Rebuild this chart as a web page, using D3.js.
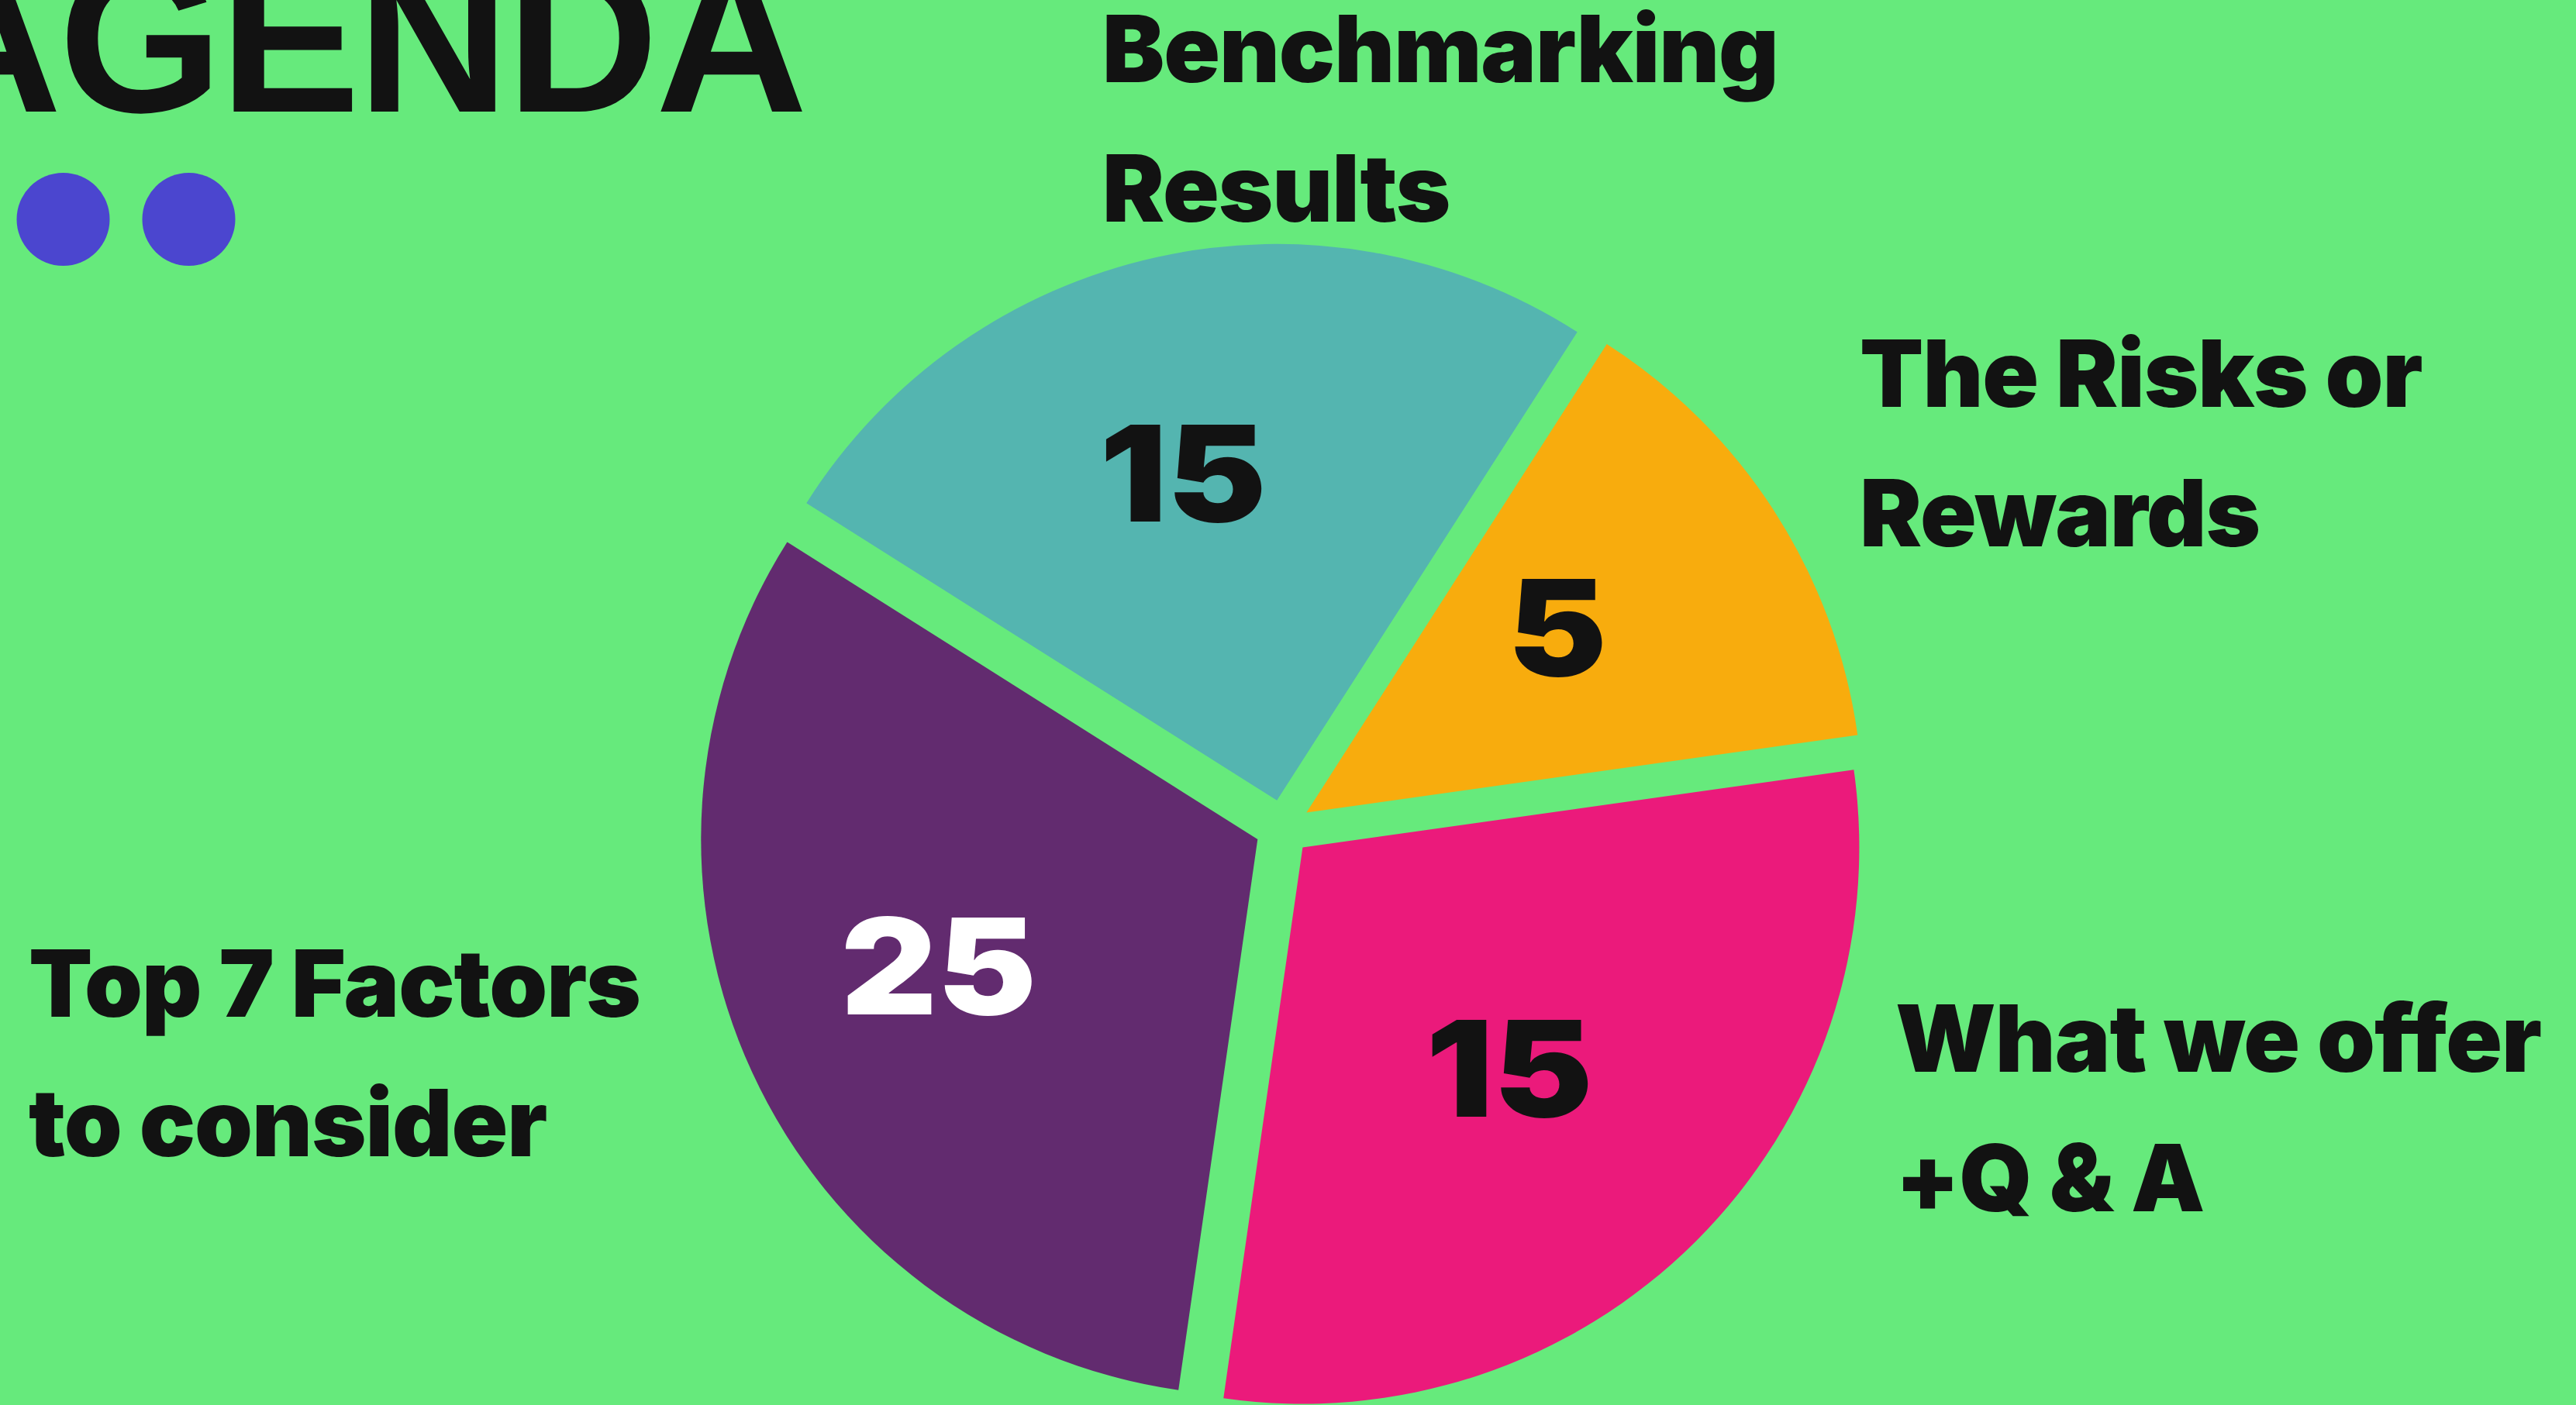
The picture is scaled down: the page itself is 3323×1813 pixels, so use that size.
<!DOCTYPE html>
<html>
<head>
<meta charset="utf-8">
<script src="https://cdn.jsdelivr.net/npm/d3@7"></script>
<style>
  html, body { margin: 0; padding: 0; background: #66ea7c; overflow: hidden; }
  svg { display: block; }
</style>
</head>
<body>
<svg class="agenda-chart"></svg>
<script>
// agenda topics, clockwise from the top-left edge of the pie
var topics = ['Benchmarking Results', 'The Risks or Rewards', 'What we offer +Q & A', 'Top 7 Factors to consider'];
var topicLines = [
  ['Benchmarking', 'Results'],
  ['The Risks or', 'Rewards'],
  ['What we offer', '+Q & A'],
  ['Top 7 Factors', 'to consider']
];
// the numbers printed on the slices (minutes)
var minuteLabels = ['15', '5', '15', '25'];
// share of the circle each slice covers (percent)
var sliceShares = [25.1, 13.7, 29.5, 31.7];

var width = 3323,
  height = 1813;

var svg = d3.select('svg.agenda-chart')
  .attr('width', width)
  .attr('height', height)
  .attr('viewBox', [0, 0, width, height].join(' '));

svg.append('rect')
  .attr('width', width)
  .attr('height', height)
  .attr('fill', '#66ea7c');

// title, pushed off the top-left corner like the original slide
svg.append('text')
  .attr('x', 1038)
  .attr('y', 144)
  .attr('text-anchor', 'end')
  .attr('fill', '#121212')
  .style('font-family', '"Liberation Sans", Arial, sans-serif')
  .style('font-weight', 700)
  .style('font-size', '272px')
  .style('letter-spacing', '-4px')
  .text('AGENDA');

// two decorative dots under the title
svg.selectAll('circle.dot')
  .data([0, 1])
  .enter().append('circle')
  .attr('class', 'dot')
  .attr('cx', function(d) { return 81.5 + d * 162; })
  .attr('cy', 283)
  .attr('r', 60)
  .attr('fill', '#4b46cf');

var cx = 1655,
  cy = 1068,
  radius = 718,
  explode = 36,
  labelRadius = 420,
  // the numbers sit a bit left of / above the slice centroids
  labelNudge = [-30, -12];

var color = d3.scaleOrdinal()
  .domain(topics)
  .range(['#54b5b0', '#f8ac0d', '#eb1a7b', '#622b6f']);

var numberColor = d3.scaleOrdinal()
  .domain(topics)
  .range(['#121212', '#121212', '#121212', '#ffffff']);

var pie = d3.pie()
  .sort(null)
  .value(function(d) { return d.share; })
  .startAngle(-57.7 * Math.PI / 180)
  .endAngle(-57.7 * Math.PI / 180 + 2 * Math.PI);

var arc = d3.arc()
  .innerRadius(0)
  .outerRadius(radius);

var labelArc = d3.arc()
  .innerRadius(labelRadius)
  .outerRadius(labelRadius);

var rows = topics.map(function(t, i) {
  return { topic: t, share: sliceShares[i], minutes: minuteLabels[i] };
});

var slices = svg.append('g')
  .attr('transform', 'translate(' + cx + ',' + cy + ')')
  .selectAll('g.slice')
  .data(pie(rows))
  .enter().append('g')
  .attr('class', 'slice')
  // every slice is pulled out a little along its bisector
  .attr('transform', function(d) {
    var mid = (d.startAngle + d.endAngle) / 2;
    return 'translate(' + (Math.sin(mid) * explode) + ',' + (-Math.cos(mid) * explode) + ')';
  });

slices.append('path')
  .attr('d', arc)
  .attr('fill', function(d) { return color(d.data.topic); });

slices.append('text')
  .attr('transform', function(d) {
    var c = labelArc.centroid(d);
    return 'translate(' + (c[0] + labelNudge[0]) + ',' + (c[1] + labelNudge[1]) + ') scale(1.12,1)';
  })
  .attr('dy', '0.36em')
  .attr('text-anchor', 'middle')
  .attr('fill', function(d) { return numberColor(d.data.topic); })
  .style('font-family', 'Inter, "Liberation Sans", sans-serif')
  .style('font-weight', 900)
  .style('font-size', '172px')
  .text(function(d) { return d.data.minutes; });

// topic captions placed around the pie
var captionAnchors = [[1422, 106], [2399, 525], [2445, 1383], [37, 1312]];
var lineGap = 180;

var captions = svg.selectAll('text.caption')
  .data(topics)
  .enter().append('text')
  .attr('class', 'caption')
  .attr('fill', '#121212')
  .style('font-family', 'Inter, "Liberation Sans", sans-serif')
  .style('font-weight', 900)
  .style('font-size', '120px')
  .style('letter-spacing', '-1px');

captions.selectAll('tspan')
  .data(function(d, i) {
    return topicLines[i].map(function(line, j) {
      return { line: line, x: captionAnchors[i][0], y: captionAnchors[i][1] + j * lineGap };
    });
  })
  .enter().append('tspan')
  .attr('x', function(d) { return d.x; })
  .attr('y', function(d) { return d.y; })
  .text(function(d) { return d.line; });
</script>
</body>
</html>
